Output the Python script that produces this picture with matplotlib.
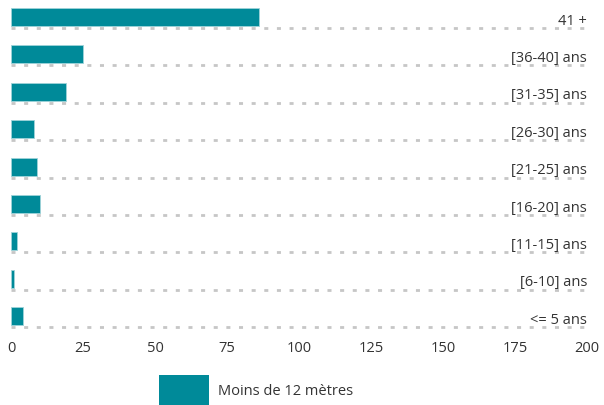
import matplotlib.pyplot as plt
from matplotlib.patches import Rectangle

categories = ["41 +", "[36-40] ans", "[31-35] ans", "[26-30] ans", "[21-25] ans",
              "[16-20] ans", "[11-15] ans", "[6-10] ans", "<= 5 ans"]
values = [86, 25, 19, 8, 9, 10, 2, 1, 4]
xticks = [0, 25, 50, 75, 100, 125, 150, 175, 200]
series_name = "Moins de 12 mètres"

TEAL = "#008a99"
GRID = "#c6c6c6"
TEXT = "#333333"
W, H = 604, 406

plt.rcParams['font.family'] = ['Open Sans', 'DejaVu Sans']

fig = plt.figure(figsize=(W / 100, H / 100), dpi=100)
# axes spans pixel x 11..587, pixel y 0..335
ax = fig.add_axes([11 / W, (H - 335) / H, 576 / W, 335 / H])

for i, (cat, val) in enumerate(zip(categories, values)):
    ax.barh(i + 0.465, val, height=0.48, align='edge', color=TEAL,
            edgecolor='#9fd3d9', linewidth=0.6, zorder=2)
    ax.hlines(i + 1, 0, 200, colors=GRID, linewidth=2.0,
              linestyles=(0, (1.45, 3.1)), zorder=1)
    ax.text(200, i + 1 - 0.12, cat, ha='right', va='baseline',
            fontsize=10.5, color=TEXT)

ax.set_xlim(0, 200)
ax.set_ylim(9.182, 0.2246)
ax.set_xticks(xticks)
ax.set_xticklabels([str(t) for t in xticks])
ax.set_yticks([])
ax.tick_params(axis='x', length=0, pad=4, labelsize=10.5, labelcolor=TEXT)
for s in ax.spines.values():
    s.set_visible(False)
ax.patch.set_alpha(0)

# legend
fig.patches.append(Rectangle((159 / W, 0), 50 / W, 30 / H, transform=fig.transFigure,
                             facecolor=TEAL, edgecolor='none'))
fig.text(218 / W, 14 / H, series_name, ha='left', va='center', fontsize=10.5, color=TEXT)

fig.savefig("out.png", dpi=100)
